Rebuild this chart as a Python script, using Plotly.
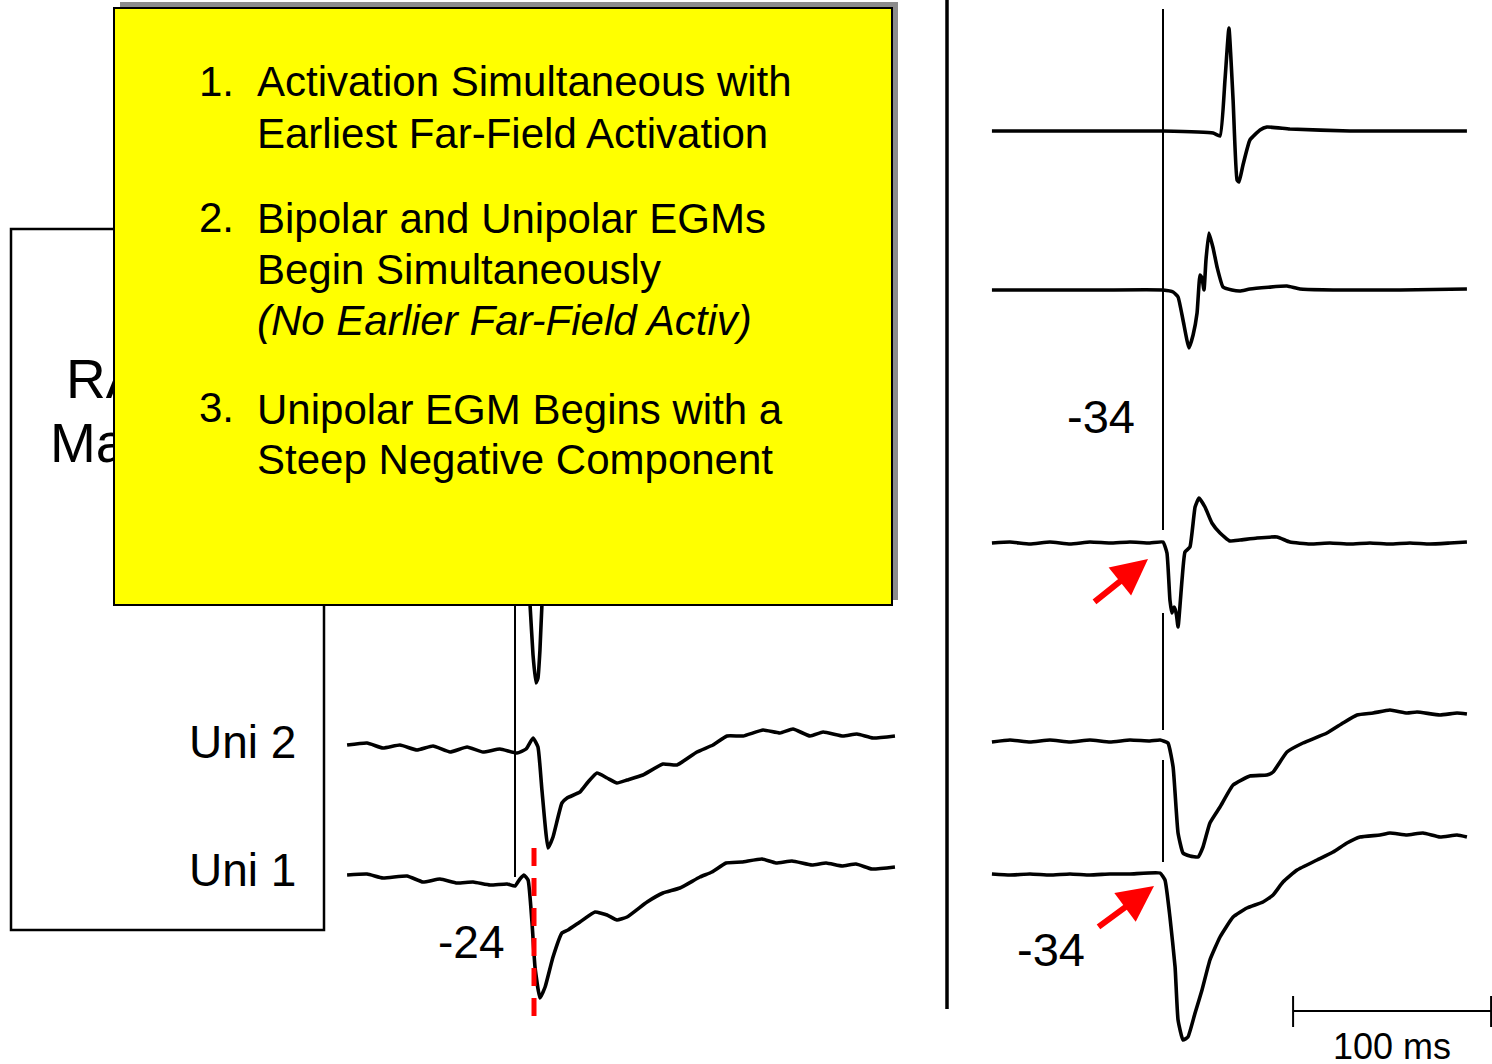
import plotly.graph_objects as go

W, H = 1492, 1064
PX_PER_MS = 1.98
PX_PER_MV = 100
FONT = "Liberation Sans, Arial, sans-serif"

# ---- data: time (ms from reference line) and voltage (mV) ----
# left panel
l_bip_t = [-85, 0, 6.1, 7.6, 9.1, 10.6, 11.6, 12.6, 13.6, 15.2, 40, 192]
l_bip_v = [0, 0, -0.05, -0.45, -0.95, -1.23, -1.18, -0.9, -0.45, -0.05, 0, 0]

l_uni2_t = [-84.8, -74.7, -66.7, -58.1, -49.5, -41.4, -32.8, -24.2, -16.2, -7.6, 1.0, 5.6, 9.1,
            11.6, 13.6, 16.7, 19.2, 23.7, 26.3, 32.8, 36.9, 41.4, 46.5, 51.5, 56.6, 64.6, 74.7,
            81.8, 91.9, 100.0, 107.1, 115.2, 125.3, 133.8, 140.4, 149.0, 155.6, 165.7, 172.7,
            180.8, 191.9]
l_uni2_v = [0.0, 0.02, -0.03, 0.0, -0.05, -0.01, -0.07, -0.02, -0.07, -0.04, -0.08, -0.04, 0.07,
            -0.02, -0.45, -1.03, -0.92, -0.58, -0.53, -0.47, -0.37, -0.28, -0.33, -0.38, -0.35,
            -0.30, -0.19, -0.20, -0.07, 0.0, 0.09, 0.09, 0.15, 0.12, 0.16, 0.09, 0.13, 0.09,
            0.11, 0.07, 0.09]

l_uni1_t = [-84.8, -74.7, -66.7, -54.5, -46.5, -37.9, -29.3, -21.2, -12.6, -4.0, 0.0, 2.5, 4.5,
            6.6, 8.6, 10.1, 12.6, 15.2, 19.2, 23.7, 26.8, 32.8, 40.4, 46.5, 51.5, 56.6, 66.7,
            74.7, 83.3, 93.4, 99.5, 106.6, 114.6, 124.7, 131.8, 139.9, 150.0, 157.1, 165.2,
            172.2, 180.3, 191.9]
l_uni1_v = [0.01, 0.02, -0.02, 0.0, -0.06, -0.03, -0.07, -0.06, -0.09, -0.08, -0.10, -0.03, 0.01,
            -0.04, -0.47, -0.91, -1.22, -1.11, -0.81, -0.57, -0.54, -0.46, -0.36, -0.39, -0.44,
            -0.41, -0.26, -0.17, -0.12, -0.01, 0.04, 0.13, 0.14, 0.17, 0.13, 0.15, 0.11, 0.13,
            0.10, 0.12, 0.07, 0.09]

# right panel
r_bip1_t = [-86.4, -31.8, 0, 25.3, 28.8, 31.3, 33.3, 35.4, 37.4, 38.4, 40.4, 43.9, 49.0, 52.5,
            64.1, 94.4, 153.5]
r_bip1_v = [0, 0, 0, -0.02, -0.05, 0.51, 1.03, 0.31, -0.49, -0.51, -0.34, -0.09, 0.01, 0.04,
            0.02, 0.0, 0.0]

r_bip2_t = [-86.4, -31.8, 0, 5.1, 7.6, 10.1, 13.1, 15.2, 17.2, 18.7, 19.7, 20.7, 21.7, 23.2, 25.3,
            27.3, 30.3, 34.8, 38.9, 43.9, 62.6, 69.2, 119.7, 153.5]
r_bip2_v = [0, 0, 0, -0.02, -0.07, -0.3, -0.58, -0.45, -0.23, 0.15, 0.12, 0.0, 0.3, 0.57, 0.42,
            0.23, 0.03, 0.0, -0.01, 0.01, 0.04, 0.01, 0.0, 0.01]

r_bip3_t = [-86.4, -77.3, -67.2, -57.1, -47.0, -36.9, -26.8, -16.7, -6.6, 0, 2.0, 3.5, 4.5, 5.6,
            6.1, 6.8, 7.6, 9.6, 11.1, 13.6, 16.2, 18.2, 21.2, 24.7, 28.8, 33.8, 38.9, 47.5, 57.6,
            64.1, 74.2, 84.3, 94.4, 104.5, 114.6, 124.7, 134.8, 144.9, 153.5]
r_bip3_v = [0.0, 0.01, -0.01, 0.01, -0.01, 0.01, 0.0, 0.01, 0.0, 0.01, -0.10, -0.57, -0.70,
            -0.64, -0.66, -0.72, -0.84, -0.37, -0.09, -0.04, 0.36, 0.45, 0.36, 0.20, 0.10, 0.02,
            0.03, 0.05, 0.06, 0.01, -0.01, 0.0, -0.01, 0.0, -0.01, 0.0, -0.01, 0.0, 0.01]

r_uni2_t = [-86.4, -77.3, -67.2, -57.1, -47.0, -36.9, -26.8, -16.7, -6.6, -1.5, 2.5, 5.1, 7.6,
            10.1, 13.6, 17.7, 20.2, 23.7, 28.8, 35.4, 43.9, 52.5, 55.6, 62.6, 70.7, 82.8, 90.9,
            98.0, 106.1, 114.6, 123.2, 128.3, 139.9, 148.5, 153.5]
r_uni2_v = [0.0, 0.02, 0.0, 0.02, 0.0, 0.02, 0.0, 0.02, 0.01, 0.02, -0.01, -0.25, -0.91, -1.11,
            -1.14, -1.15, -1.05, -0.81, -0.65, -0.43, -0.34, -0.33, -0.30, -0.10, -0.01, 0.09,
            0.19, 0.27, 0.29, 0.32, 0.29, 0.30, 0.27, 0.29, 0.28]

r_uni1_t = [-86.4, -77.3, -67.2, -57.1, -47.0, -36.9, -26.8, -16.7, -1.5, 1.0, 3.5, 6.1, 7.6,
            10.1, 12.6, 16.2, 19.7, 23.7, 28.8, 35.4, 42.4, 50.5, 55.6, 60.6, 67.7, 77.8, 85.9,
            92.9, 99.5, 109.6, 114.6, 123.2, 131.3, 139.9, 148.5, 153.5]
r_uni1_v = [0.01, 0.0, 0.01, 0.0, 0.01, 0.0, 0.01, 0.01, 0.02, -0.05, -0.42, -0.92, -1.45,
            -1.65, -1.62, -1.38, -1.15, -0.85, -0.62, -0.42, -0.33, -0.27, -0.20, -0.07, 0.05,
            0.15, 0.23, 0.32, 0.38, 0.40, 0.42, 0.40, 0.42, 0.38, 0.40, 0.38]

box_items = ["1.", "2.", "3."]
box_lines = [
    ["Activation Simultaneous with", "Earliest Far-Field Activation"],
    ["Bipolar and Unipolar EGMs", "Begin Simultaneously", "<i>(No Earlier Far-Field Activ)</i>"],
    ["Unipolar EGM Begins with a", "Steep Negative Component"],
]
scale_bar_ms = 100


def fx(p):
    return p / W


def fy(p):
    return 1 - p / H


# panel layout: (pixel of reference line, pixel span)
panels = {
    "x": dict(ref=515, lo=330, hi=940),
    "x2": dict(ref=1163, lo=940, hi=1492),
}

# (x axis, baseline pixel, half window px, t, v)
traces = [
    ("x", 560, 150, l_bip_t, l_bip_v),
    ("x", 745, 150, l_uni2_t, l_uni2_v),
    ("x", 876, 180, l_uni1_t, l_uni1_v),
    ("x2", 131, 125, r_bip1_t, r_bip1_v),
    ("x2", 290, 150, r_bip2_t, r_bip2_v),
    ("x2", 543, 150, r_bip3_t, r_bip3_v),
    ("x2", 742, 160, r_uni2_t, r_uni2_v),
    ("x2", 875, 180, r_uni1_t, r_uni1_v),
]

fig = go.Figure()
layout = {}
for name, p in panels.items():
    key = "xaxis" if name == "x" else "xaxis2"
    layout[key] = dict(domain=[fx(p["lo"]), fx(p["hi"])],
                       range=[(p["lo"] - p["ref"]) / PX_PER_MS, (p["hi"] - p["ref"]) / PX_PER_MS],
                       visible=False, showgrid=False, zeroline=False, fixedrange=True)

for i, (xa, base, hw, t, v) in enumerate(traces, start=1):
    ya = "y" if i == 1 else f"y{i}"
    key = "yaxis" if i == 1 else f"yaxis{i}"
    layout[key] = dict(domain=[fy(base + hw), fy(base - hw)],
                       range=[-hw / PX_PER_MV, hw / PX_PER_MV], anchor=xa,
                       visible=False, showgrid=False, zeroline=False, fixedrange=True)
    fig.add_trace(go.Scatter(x=t, y=v, xaxis=xa, yaxis=ya, mode="lines",
                             line=dict(color="black", width=3.6, shape="spline", smoothing=0.4),
                             hoverinfo="skip"))
layout["xaxis"]["anchor"] = "y"
layout["xaxis2"]["anchor"] = "y4"

shapes = [
    # left outline box
    dict(type="rect", xref="paper", yref="paper", x0=fx(11), x1=fx(324), y0=fy(930), y1=fy(229),
         line=dict(color="black", width=2.5)),
    # divider
    dict(type="line", xref="paper", yref="paper", x0=fx(947), x1=fx(947), y0=fy(0), y1=fy(1009),
         line=dict(color="black", width=3.5)),
    # left reference line
    dict(type="line", xref="x", yref="paper", x0=0, x1=0, y0=fy(606), y1=fy(877),
         line=dict(color="black", width=2)),
    # red dashed line at unipolar downstroke
    dict(type="line", xref="x", yref="paper", x0=9.6, x1=9.6, y0=fy(848), y1=fy(1024),
         line=dict(color="#ff0000", width=5, dash="18px,12px")),
    # scale bar
    dict(type="line", xref="x2", yref="paper", x0=65.7, x1=65.7 + scale_bar_ms, y0=fy(1011), y1=fy(1011),
         line=dict(color="black", width=2)),
    dict(type="line", xref="x2", yref="paper", x0=65.7, x1=65.7, y0=fy(996), y1=fy(1027),
         line=dict(color="black", width=2)),
    dict(type="line", xref="x2", yref="paper", x0=65.7 + scale_bar_ms, x1=65.7 + scale_bar_ms,
         y0=fy(996), y1=fy(1027), line=dict(color="black", width=2)),
]
# right reference line with gaps
for a, b in [(9, 530), (613, 730), (760, 862)]:
    shapes.append(dict(type="line", xref="x2", yref="paper", x0=0, x1=0, y0=fy(a), y1=fy(b),
                       line=dict(color="black", width=2)))

annotations = [
    dict(text="RA", x=fx(64), y=fy(379), xanchor="left", yanchor="middle",
         font=dict(size=55, family=FONT, color="black")),
    dict(text="Map", x=fx(48), y=fy(443), xanchor="left", yanchor="middle",
         font=dict(size=55, family=FONT, color="black")),
    # shadow + yellow box
    dict(text=" ", x=fx(509), y=fy(301), xanchor="center", yanchor="middle", width=778, height=598,
         bgcolor="#8c8c8c", borderpad=0, borderwidth=0),
    dict(text=" ", x=fx(503), y=fy(306.5), xanchor="center", yanchor="middle", width=776, height=595,
         bgcolor="#ffff00", bordercolor="black", borderwidth=2, borderpad=0),
]
num_y = [81.5, 217, 408]
line_y = [[82, 133], [218, 269, 320], [409, 460]]
for k in range(3):
    annotations.append(dict(text=box_items[k], x=fx(197), y=fy(num_y[k]), xanchor="left",
                            yanchor="middle", font=dict(size=42, family=FONT, color="black")))
    for txt, yy in zip(box_lines[k], line_y[k]):
        annotations.append(dict(text=txt, x=fx(255), y=fy(yy), xanchor="left",
                                yanchor="middle", font=dict(size=42, family=FONT, color="black")))

labels = [("Uni 2", 298, 742, "right", 46), ("Uni 1", 298, 870, "right", 46),
          ("-24", 471, 942, "center", 46), ("-34", 1101, 416, "center", 47),
          ("-34", 1051, 949, "center", 47), ("100 ms", 1392, 1046, "center", 36)]
for txt, x, y, anc, sz in labels:
    annotations.append(dict(text=txt, x=fx(x), y=fy(y), xanchor=anc, yanchor="middle",
                            font=dict(size=sz, family=FONT, color="black")))

# red arrows (tip, tail offset)
for tip, off in [((1148, 559), (-55, 44)), ((1154, 886), (-57, 42))]:
    annotations.append(dict(text="", x=fx(tip[0]), y=fy(tip[1]), ax=off[0], ay=off[1],
                            showarrow=True, arrowhead=2, arrowsize=1.2, arrowwidth=6,
                            arrowcolor="#ff0000", standoff=0))

for a in annotations:
    a.setdefault("xref", "paper")
    a.setdefault("yref", "paper")
    a.setdefault("showarrow", False)

fig.update_layout(**layout)
fig.update_layout(width=W, height=H, margin=dict(l=0, r=0, t=0, b=0), autosize=False,
                  paper_bgcolor="white", plot_bgcolor="rgba(0,0,0,0)", showlegend=False,
                  shapes=shapes, annotations=annotations, font=dict(family=FONT))

fig.write_html("out.html", config={"displayModeBar": False},
               post_script="document.body.style.margin='0';")
